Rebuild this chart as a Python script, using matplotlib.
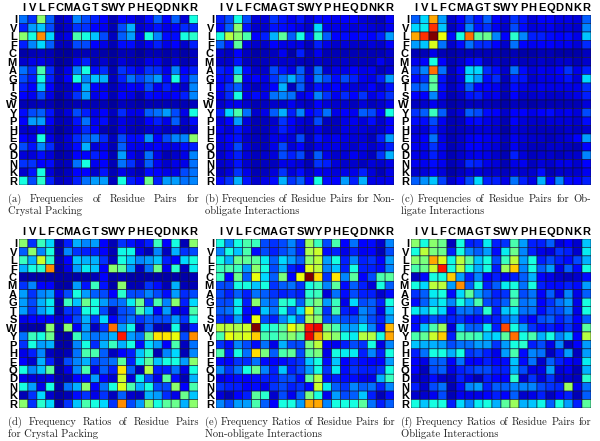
import numpy as np
import matplotlib
matplotlib.use('Agg')
import matplotlib.pyplot as plt
from matplotlib.colors import PowerNorm

residues = list('IVLFCMAGTSWYPHEQDNKR')

crystal_freq = [
    [22,16,50,20,5,7,24,18,14,10,4,10,9,6,12,20,10,20,7,36],
    [14,26,30,18,4,6,16,16,11,9,4,18,28,6,8,13,8,10,15,15],
    [50,36,75,32,6,8,42,36,30,18,5,20,26,8,36,24,12,12,36,38],
    [14,24,32,20,5,5,18,18,11,8,4,12,12,6,9,14,8,11,6,14],
    [3,4,5,4,2,2,4,4,4,3,2,4,4,2,4,4,3,4,3,5],
    [6,8,8,6,2,3,9,14,5,6,3,7,5,4,8,8,4,7,4,6],
    [22,16,42,15,4,8,24,36,12,15,4,16,13,8,16,15,8,24,11,14],
    [18,14,36,14,5,11,36,24,30,28,5,14,22,17,22,26,12,36,13,22],
    [14,11,30,10,4,5,11,28,10,8,4,8,10,9,18,9,14,8,6,24],
    [10,9,18,8,3,6,16,26,8,10,4,10,8,4,12,10,9,10,14,24],
    [4,4,5,4,2,3,4,5,4,4,2,5,4,3,4,4,4,4,4,5],
    [12,18,20,13,4,7,18,14,8,11,5,15,8,8,20,22,26,18,8,36],
    [10,26,26,11,4,5,13,22,9,12,4,8,6,5,11,14,8,20,6,12],
    [6,6,9,6,2,4,8,15,11,4,3,8,5,4,6,7,5,6,4,6],
    [10,8,36,8,4,7,15,20,22,15,5,18,12,12,25,10,18,24,24,50],
    [18,13,24,15,4,6,12,28,7,9,4,20,9,8,9,10,8,8,12,14],
    [7,7,12,7,3,4,11,11,14,10,4,26,9,6,22,8,4,6,8,24],
    [16,16,11,12,4,5,22,36,9,10,4,22,16,6,20,9,6,8,8,22],
    [6,13,36,7,3,5,10,11,6,13,4,8,6,4,12,10,8,8,18,22],
    [36,18,38,14,5,6,14,22,26,26,5,36,14,10,46,14,26,26,22,24],
]
nonob_freq = [
    [14,18,36,18,7,7,16,13,9,13,7,12,11,9,10,11,7,6,5,10],
    [12,20,50,13,6,6,13,12,10,8,6,32,8,8,8,7,8,7,6,9],
    [36,55,50,42,10,14,28,44,20,36,14,38,20,10,12,10,12,10,14,26],
    [20,13,44,8,6,6,10,8,8,8,5,14,8,6,7,6,6,7,6,10],
    [6,5,11,5,3,4,5,9,3,14,4,9,4,4,4,4,4,4,4,6],
    [6,6,13,5,4,5,6,6,6,5,4,6,5,5,6,5,5,5,9,6],
    [14,12,30,12,6,6,18,13,8,20,6,22,6,8,8,10,8,9,5,7],
    [12,13,42,9,10,8,16,22,28,20,8,24,18,12,18,14,9,8,14,26],
    [11,16,20,7,5,7,10,28,5,20,6,13,9,10,8,7,7,10,6,13],
    [8,15,36,8,12,8,22,24,22,8,10,24,16,9,15,10,16,8,12,16],
    [6,8,9,6,4,5,6,6,9,6,5,11,7,6,6,5,7,5,6,9],
    [14,32,42,22,6,8,20,28,14,24,11,14,22,8,11,9,20,18,10,36],
    [7,10,26,7,4,5,6,16,10,7,6,18,5,5,8,9,7,12,6,10],
    [9,7,13,7,4,5,7,14,9,6,5,8,5,5,8,7,7,6,6,10],
    [8,10,13,6,5,5,8,9,7,18,5,13,8,9,8,7,7,5,14,26],
    [7,9,18,7,5,5,8,18,7,10,5,8,8,8,7,6,8,6,8,14],
    [6,9,14,7,5,6,7,18,14,18,5,20,8,6,7,9,7,5,16,28],
    [6,7,13,6,4,5,5,8,8,7,4,16,14,7,6,6,5,7,6,8],
    [5,7,16,8,4,5,7,16,7,12,6,9,8,7,8,8,14,7,4,8],
    [12,16,28,13,6,8,12,28,16,20,10,36,12,10,26,14,28,8,8,9],
]
oblig_freq = [
    [20,32,72,26,6,10,18,13,20,11,7,16,13,7,10,10,8,8,7,20],
    [32,34,85,30,5,9,24,13,16,9,6,18,12,7,8,9,7,7,6,24],
    [72,85,100,62,12,36,78,44,46,24,11,38,24,14,14,12,11,12,8,30],
    [26,30,60,22,6,12,22,15,15,11,6,22,11,9,11,10,9,9,7,15],
    [4,4,8,4,3,4,4,4,4,4,3,4,3,3,4,4,3,3,3,5],
    [9,11,36,11,4,6,11,12,5,6,4,6,5,5,6,5,6,6,4,6],
    [17,24,78,22,5,10,32,32,15,12,6,22,12,7,9,8,10,16,8,14],
    [12,16,44,13,5,8,32,26,12,15,5,14,13,6,8,8,9,13,7,32],
    [20,22,44,12,5,8,20,11,10,9,5,12,8,7,9,8,8,8,8,15],
    [10,11,24,9,4,6,13,14,8,9,4,11,6,6,7,6,6,7,8,14],
    [5,6,9,6,3,4,5,5,5,4,3,5,4,3,4,4,4,4,4,7],
    [16,20,40,20,5,7,20,18,12,10,6,11,10,8,10,12,8,9,7,18],
    [12,12,18,9,4,5,11,12,8,7,4,10,7,6,6,7,7,7,6,12],
    [7,7,14,7,4,5,6,7,7,6,3,7,6,5,5,5,5,6,5,6],
    [8,10,22,8,4,6,9,10,9,8,5,9,7,6,6,5,6,7,10,26],
    [9,9,16,9,4,6,10,10,8,7,4,9,6,5,5,6,6,5,4,11],
    [8,8,14,8,4,6,8,9,8,6,4,14,7,5,6,6,5,6,6,24],
    [9,9,12,9,4,6,15,14,8,7,4,8,9,5,7,6,8,8,6,10],
    [6,7,11,7,3,5,7,7,6,6,5,7,6,6,12,4,6,6,6,9],
    [20,25,30,17,6,10,18,32,14,14,8,22,14,8,28,10,24,12,10,14],
]
crystal_ratio = [
    [50,16,40,32,3,14,28,24,26,10,4,16,13,8,14,40,10,36,4,50],
    [20,50,24,36,3,24,16,14,14,10,4,35,35,8,4,24,5,28,16,18],
    [40,28,58,38,4,10,30,28,28,16,5,36,30,24,26,30,14,11,32,36],
    [28,36,38,75,3,8,26,34,30,10,50,44,26,5,22,46,9,38,5,34],
    [3,3,3,3,3,3,3,3,4,10,3,4,3,3,3,3,3,3,3,4],
    [16,24,10,10,3,3,26,13,40,13,3,50,4,4,16,12,4,28,4,4],
    [26,16,24,26,8,18,36,26,20,18,10,38,18,18,24,18,12,26,15,18],
    [26,18,28,34,3,40,30,46,36,26,20,22,34,46,16,42,24,50,14,32],
    [26,16,26,32,3,16,16,36,36,18,4,18,20,42,30,10,26,8,8,42],
    [8,10,10,10,6,10,18,28,16,32,10,18,22,16,20,18,18,26,16,36],
    [3,3,3,50,3,50,9,26,5,16,78,26,35,5,20,4,4,36,4,14],
    [22,40,36,46,3,3,40,26,22,24,28,88,26,22,46,65,65,62,18,75],
    [16,36,26,28,3,3,24,36,15,28,40,28,36,12,32,26,10,42,5,22],
    [8,14,24,5,3,4,22,42,42,20,5,10,14,30,38,4,24,32,4,24],
    [10,6,28,14,3,18,24,28,18,20,22,44,14,34,44,30,36,36,26,50],
    [36,24,30,44,3,8,24,42,8,20,14,65,20,4,55,14,14,22,8,36],
    [8,7,7,8,3,3,10,12,26,10,6,58,7,34,18,8,44,12,4,28],
    [36,26,8,36,3,22,28,50,10,22,36,60,42,28,36,18,18,50,10,42],
    [4,16,32,6,3,4,12,16,8,16,5,20,6,5,28,26,15,8,46,30],
    [50,16,38,32,3,16,30,42,36,32,16,75,18,26,50,36,44,46,28,50],
]
nonob_ratio = [
    [36,24,36,42,40,18,16,18,24,15,52,40,18,42,10,22,10,12,6,24],
    [24,36,30,42,12,18,14,18,22,14,54,58,12,14,8,14,9,10,4,18],
    [36,28,46,45,44,34,20,32,26,20,50,56,26,36,14,24,14,16,10,26],
    [40,42,40,26,50,36,18,28,14,10,60,56,24,30,14,36,14,14,12,24],
    [40,11,46,20,62,32,20,48,10,62,100,66,16,65,24,44,10,18,42,44],
    [18,18,36,36,30,36,16,20,22,16,36,40,24,44,12,20,14,7,36,20],
    [18,14,20,14,22,20,16,14,16,14,38,40,7,22,12,18,14,14,6,12],
    [18,18,34,14,50,24,20,38,36,20,42,48,26,40,8,32,18,20,14,36],
    [20,22,34,12,10,30,22,36,20,32,60,44,16,42,14,12,24,20,8,30],
    [16,14,26,10,62,18,14,24,32,20,54,50,18,22,18,18,24,18,14,26],
    [56,56,54,58,100,36,38,44,62,54,88,90,48,42,26,26,34,24,12,70],
    [42,62,58,60,68,42,40,45,50,44,90,72,56,50,36,34,55,55,36,72],
    [16,12,24,18,12,22,8,28,18,18,48,56,10,9,14,18,16,36,8,24],
    [42,14,36,22,66,48,20,42,45,18,44,48,8,36,34,34,14,24,14,36],
    [12,10,16,15,22,12,10,12,14,16,30,36,12,30,10,14,12,10,10,26],
    [24,16,22,36,46,24,14,30,14,18,26,36,16,34,12,16,14,14,16,36],
    [8,10,12,10,12,14,14,18,18,12,44,55,12,14,12,12,8,8,28,40],
    [16,14,14,10,12,8,16,18,14,16,12,58,34,20,16,24,20,22,14,24],
    [7,4,10,14,44,38,6,18,9,20,48,36,9,26,18,20,30,14,4,12],
    [24,18,26,26,42,20,10,36,36,26,72,72,24,36,36,36,44,22,14,20],
]
oblig_ratio = [
    [50,36,50,46,5,36,14,15,34,14,16,42,26,14,14,20,7,10,6,30],
    [36,56,48,46,14,36,24,20,26,12,34,46,24,14,8,7,16,14,6,34],
    [50,48,72,60,35,56,44,30,36,18,40,56,26,36,14,18,14,12,18,28],
    [42,46,58,88,36,56,36,28,36,14,52,68,24,36,20,26,8,20,12,36],
    [5,12,36,36,68,26,14,24,10,14,9,14,20,28,10,8,6,5,6,12],
    [36,32,56,56,26,75,20,36,14,20,34,36,22,36,14,12,12,14,12,26],
    [16,20,34,36,12,32,44,26,20,14,16,40,18,22,10,20,8,24,8,20],
    [12,20,30,34,24,36,28,42,18,16,20,42,22,24,10,16,22,26,8,36],
    [34,30,36,32,12,22,22,18,38,14,30,34,22,22,12,18,18,24,8,36],
    [12,14,18,16,14,16,12,12,14,14,20,26,14,10,18,20,14,18,10,20],
    [12,30,42,52,7,30,20,20,34,14,82,36,26,16,12,14,10,16,8,44],
    [42,45,58,68,14,42,42,40,30,32,44,78,36,42,28,36,24,30,10,55],
    [30,28,28,26,18,22,22,26,26,16,26,36,38,14,18,8,24,5,10,26],
    [14,22,36,36,28,36,16,18,14,8,26,42,12,24,22,5,14,26,5,26],
    [10,8,20,20,10,22,10,10,14,10,12,30,12,22,6,20,14,10,8,34],
    [11,5,18,20,8,14,16,18,18,14,14,28,18,8,8,26,7,9,4,28],
    [6,6,12,6,5,14,8,4,14,10,10,38,6,16,7,16,6,6,5,38],
    [14,6,18,22,4,12,24,26,14,20,20,24,24,24,18,16,15,52,9,22],
    [6,6,9,18,4,9,8,8,10,14,10,20,6,8,14,5,10,14,4,20],
    [36,30,36,36,14,32,24,34,36,28,44,52,28,30,35,20,36,26,14,44],
]

matrices = [crystal_freq, nonob_freq, oblig_freq, crystal_ratio, nonob_ratio, oblig_ratio]
captions = [
    ['(a) Frequencies of Residue Pairs for', 'Crystal Packing'],
    ['(b) Frequencies of Residue Pairs for Non-', 'obligate Interactions'],
    ['(c) Frequencies of Residue Pairs for Ob-', 'ligate Interactions'],
    ['(d) Frequency Ratios of Residue Pairs', 'for Crystal Packing'],
    ['(e) Frequency Ratios of Residue Pairs for', 'Non-obligate Interactions'],
    ['(f) Frequency Ratios of Residue Pairs for', 'Obligate Interactions'],
]
# pixel boxes of the heatmaps: left, right, top, bottom
boxes = [(19, 198, 15, 185), (216, 394, 15, 185), (411, 591, 15, 185),
         (19, 198, 239, 408), (216, 394, 239, 408), (411, 591, 239, 408)]
cap_x = [(8, 199), (205, 395), (401, 591), (8, 199), (205, 395), (401, 591)]
cap_y = [(202, 214), (202, 214), (202, 214), (425, 437), (425, 437), (425, 437)]

W, H = 600, 441
fig = plt.figure(figsize=(W / 100, H / 100), dpi=100)


def justified(line, x0, x1, y):
    # spread the words over the column, like the LaTeX caption
    words = line.split()
    rend = fig.canvas.get_renderer()
    items = [fig.text(0, y, w, family='cmr10', fontsize=7.6, color='#222222', va='baseline') for w in words]
    widths = [t.get_window_extent(rend).width for t in items]
    gap = (x1 - x0 - sum(widths)) / max(len(words) - 1, 1)
    x = x0
    for t, w in zip(items, widths):
        t.set_x(x / W)
        x += w + gap


for i in range(6):
    l, r, t, b = boxes[i]
    ax = fig.add_axes([l / W, 1 - b / H, (r - l) / W, (b - t) / H])
    mesh = ax.pcolormesh(np.array(matrices[i]), cmap='jet', norm=PowerNorm(0.95, vmin=0, vmax=100),
                         edgecolors='#101030', linewidth=0.4, antialiased=True)
    mesh.set_snap(False)
    ax.invert_yaxis()
    ax.xaxis.tick_top()
    ax.set_xticks(np.arange(20) + 0.5, residues, fontsize=8, fontweight='bold', family='Liberation Sans')
    ax.set_yticks(np.arange(20) + 0.5, residues, fontsize=8, fontweight='bold', family='Liberation Sans')
    ax.tick_params(length=0, pad=1.5)
    for s in ax.spines.values():
        s.set_visible(False)

    x0, x1 = cap_x[i]
    y1, y2 = cap_y[i]
    justified(captions[i][0], x0, x1, 1 - y1 / H)
    fig.text(x0 / W, 1 - y2 / H, captions[i][1], family='cmr10', fontsize=7.6, color='#222222', va='baseline')

fig.savefig('out.png', dpi=100)
